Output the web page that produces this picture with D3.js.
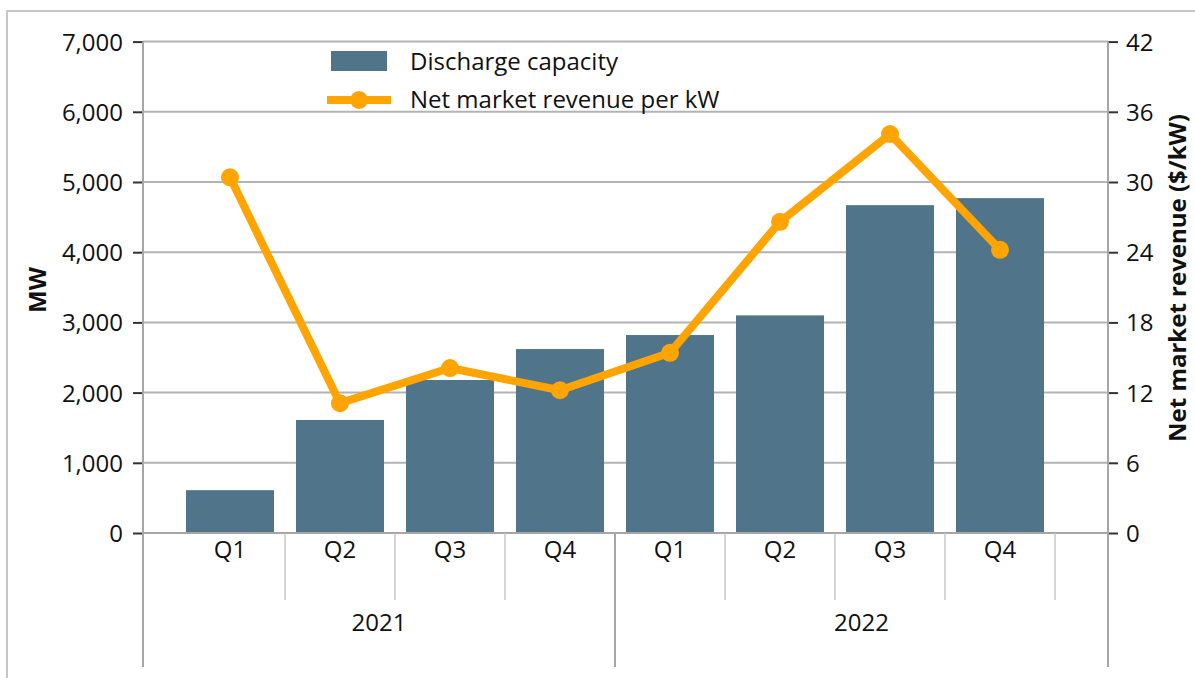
<!DOCTYPE html>
<html><head><meta charset="utf-8">
<script src="https://cdn.jsdelivr.net/npm/d3@7"></script>
<style>
body{margin:0;background:#fff;}
svg{display:block;font-family:"Open Sans",Lato,sans-serif;}
</style></head>
<body><svg id="c" width="1195" height="678"></svg>
<script>
const quarters = ["Q1","Q2","Q3","Q4","Q1","Q2","Q3","Q4"];
const years = ["2021","2022"];
const capacity = [610,1610,2180,2620,2820,3100,4670,4770];
const revenue = [30.4,11.1,14.1,12.2,15.4,26.6,34.1,24.2];
const leftTicks = [0,1000,2000,3000,4000,5000,6000,7000];
const rightTicks = [0,6,12,18,24,30,36,42];
const seriesNames = ["Discharge capacity","Net market revenue per kW"];

const svg = d3.select("#c");
const L=143, R=1108, T=41.6, B=533;
const FS=24;
const barColor="#50758a", lineColor="#ffa400", gridColor="#b3b3b3", axisColor="#a6a6a6";

// outer frame
svg.append("rect").attr("x",7).attr("y",11).attr("width",1200).attr("height",700)
  .attr("fill","none").attr("stroke","#c6c6c6").attr("stroke-width",2);

const idx = quarters.map((d,i)=>i);
const x = d3.scaleBand().domain(idx).range([175,1055]).paddingInner(0.2).paddingOuter(0.1);
const yL = d3.scaleLinear().domain([0,7000]).range([B,T]);
const yR = d3.scaleLinear().domain([0,42]).range([B,T]);

// gridlines
svg.append("g").selectAll("line").data(leftTicks.slice(1)).join("line")
  .attr("x1",L).attr("x2",R).attr("y1",d=>yL(d)).attr("y2",d=>yL(d))
  .attr("stroke",gridColor).attr("stroke-width",2);

// bars
svg.append("g").selectAll("rect").data(capacity).join("rect")
  .attr("x",(d,i)=>x(i)).attr("width",x.bandwidth())
  .attr("y",d=>yL(d)).attr("height",d=>B-yL(d)).attr("fill",barColor);

// left axis
const gl = svg.append("g").attr("transform",`translate(${L},0)`)
  .call(d3.axisLeft(yL).tickValues(leftTicks).tickSize(10).tickPadding(10).tickFormat(d3.format(",")));
gl.select(".domain").remove();
gl.selectAll(".tick line").attr("stroke","#333").attr("stroke-width",2);
gl.selectAll("text").attr("font-size",FS).attr("fill","#111").attr("font-family","Open Sans").attr("dy","0.35em");
svg.append("line").attr("x1",L).attr("x2",L).attr("y1",T).attr("y2",667).attr("stroke",axisColor).attr("stroke-width",2);

// right axis
const gr = svg.append("g").attr("transform",`translate(${R},0)`)
  .call(d3.axisRight(yR).tickValues(rightTicks).tickSize(10).tickPadding(8));
gr.select(".domain").remove();
gr.selectAll(".tick line").attr("stroke","#333").attr("stroke-width",2);
gr.selectAll("text").attr("font-size",FS).attr("fill","#111").attr("font-family","Open Sans").attr("dy","0.35em");
svg.append("line").attr("x1",R).attr("x2",R).attr("y1",T).attr("y2",667).attr("stroke",axisColor).attr("stroke-width",2);

// x axis line
svg.append("line").attr("x1",L).attr("x2",R).attr("y1",B).attr("y2",B).attr("stroke",axisColor).attr("stroke-width",2);

// quarter separators
const step = x.step();
const bounds = idx.map(i=>x(i)+x.bandwidth()+ (step-x.bandwidth())/2);
svg.append("g").selectAll("line").data(bounds).join("line")
  .attr("x1",d=>d).attr("x2",d=>d).attr("y1",B).attr("y2",(d,i)=>i===3?667:600)
  .attr("stroke",(d,i)=>i===3?axisColor:"#c0c0c0").attr("stroke-width",(d,i)=>i===3?2:1.3);

// quarter labels
svg.append("g").selectAll("text").data(quarters).join("text")
  .attr("x",(d,i)=>x(i)+x.bandwidth()/2).attr("y",558).attr("text-anchor","middle")
  .attr("font-size",FS).attr("fill","#111").text(d=>d);

// year labels
const yearMid = [(L+bounds[3])/2,(bounds[3]+R)/2];
svg.append("g").selectAll("text").data(years).join("text")
  .attr("x",(d,i)=>yearMid[i]).attr("y",631).attr("text-anchor","middle")
  .attr("font-size",FS).attr("fill","#111").text(d=>d);

// line
const line = d3.line().x((d,i)=>x(i)+x.bandwidth()/2).y(d=>yR(d));
svg.append("path").datum(revenue).attr("d",line).attr("fill","none")
  .attr("stroke",lineColor).attr("stroke-width",8).attr("stroke-linejoin","round");
svg.append("g").selectAll("circle").data(revenue).join("circle")
  .attr("cx",(d,i)=>x(i)+x.bandwidth()/2).attr("cy",d=>yR(d)).attr("r",9).attr("fill",lineColor);

// axis titles
svg.append("text").attr("transform","translate(46,290) rotate(-90)").attr("text-anchor","middle")
  .attr("font-size",FS).attr("font-weight","bold").attr("fill","#111").text("MW");
svg.append("text").attr("transform","translate(1186,278) rotate(-90)").attr("text-anchor","middle")
  .attr("font-size",FS).attr("font-weight","bold").attr("fill","#111").text("Net market revenue ($/kW)");

// legend
const lg = svg.append("g");
lg.append("rect").attr("x",331).attr("y",51).attr("width",56).attr("height",20).attr("fill",barColor);
lg.append("text").attr("x",410).attr("y",70).attr("font-size",FS).attr("fill","#111").text(seriesNames[0]);
lg.append("line").attr("x1",327).attr("x2",391).attr("y1",100).attr("y2",100).attr("stroke",lineColor).attr("stroke-width",8);
lg.append("circle").attr("cx",359).attr("cy",100).attr("r",9).attr("fill",lineColor);
lg.append("text").attr("x",410).attr("y",108).attr("font-size",FS).attr("fill","#111").text(seriesNames[1]);
</script></body></html>
